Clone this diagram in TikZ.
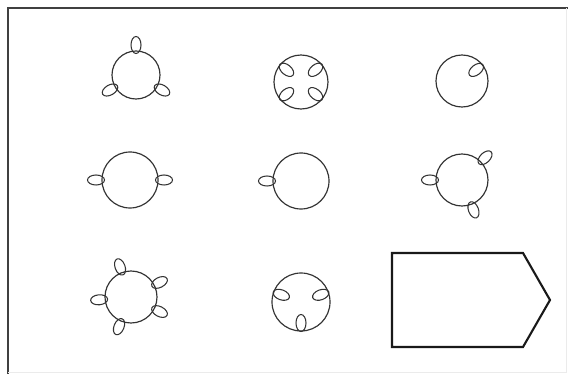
\documentclass[tikz,border=0pt]{standalone}
\begin{document}
\begin{tikzpicture}[x=0.03cm, y=-0.03cm,
  ring/.style={draw=black!80, line width=1pt},
  petal/.style={draw=black!80, line width=0.9pt},
  tagshape/.style={draw=black!90, line width=1.8pt, line join=miter}
]
\useasboundingbox (0,0) rectangle (568,374);

%% Frame (left and top dark, right and bottom faint)
\draw[black!75, line width=1.5pt] (8,374) -- (8,8) -- (568,8);
\draw[black!8, line width=0.6pt] (566,8) -- (566,372) -- (8,372);

%% Circle centres
\coordinate (c1) at (136,75);
\coordinate (c2) at (301,82);
\coordinate (c3) at (462,81);
\coordinate (c4) at (130,180);
\coordinate (c5) at (301,181);
\coordinate (c6) at (462,180);
\coordinate (c7) at (131,297);
\coordinate (c8) at (301,302);

%% Row 1
\draw[ring] (c1) circle (24);
\foreach \a in {90,210,330}
  \draw[petal, shift={(c1)}, rotate=\a] (30,0) ellipse (8.5 and 5);
\draw[ring] (c2) circle (27);
\foreach \a in {40,140,220,320}
  \draw[petal, shift={(c2)}, rotate=\a] (19,0) ellipse (8.5 and 5);
\draw[ring] (c3) circle (26);
\draw[petal, shift={(c3)}, rotate=38] (18,0) ellipse (8.5 and 5);

%% Row 2
\draw[ring] (c4) circle (28);
\foreach \a in {0,180}
  \draw[petal, shift={(c4)}, rotate=\a] (34,0) ellipse (8.5 and 5);
\draw[ring] (c5) circle (28);
\draw[petal, shift={(c5)}, rotate=180] (34,0) ellipse (8.5 and 5);
\draw[ring] (c6) circle (26);
\foreach \a in {44,180,291}
  \draw[petal, shift={(c6)}, rotate=\a] (32,0) ellipse (8.5 and 5);

%% Row 3
\draw[ring] (c7) circle (26);
\foreach \a in {110,27,-27,185,248}
  \draw[petal, shift={(c7)}, rotate=\a] (32,0) ellipse (8.5 and 5);
\draw[ring] (c8) circle (29);
\foreach \a in {20,160,270}
  \draw[petal, shift={(c8)}, rotate=\a] (21,0) ellipse (8.5 and 5);

%% Pentagon tag
\draw[tagshape] (392,253) -- (523,253) -- (550,300) -- (523,347) -- (392,347) -- cycle;
\end{tikzpicture}
\end{document}
